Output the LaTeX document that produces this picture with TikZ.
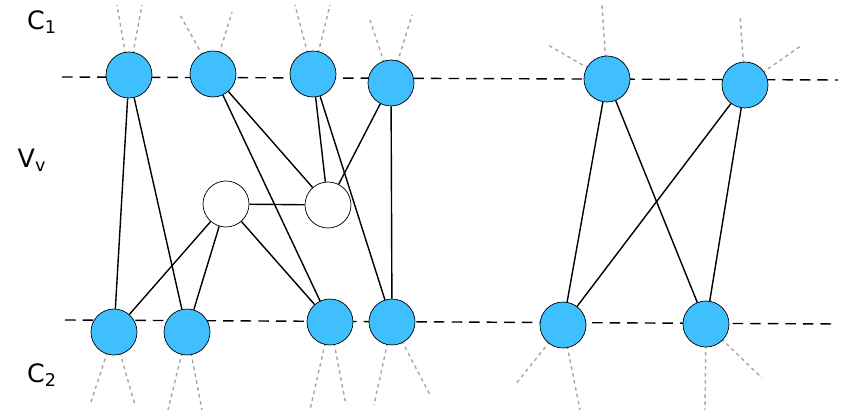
\documentclass[tikz,border=0pt]{standalone}
\usepackage{fontspec}
\setmainfont{DejaVu Sans}
\definecolor{nodeblue}{HTML}{40BFFF}
\begin{document}
\begin{tikzpicture}[x=0.02cm,y=-0.02cm,
    vert/.style={circle,draw,fill=nodeblue,minimum size=0.92cm,inner sep=0pt},
    free/.style={circle,draw,fill=white,minimum size=0.92cm,inner sep=0pt},
    stub/.style={gray!70,dash pattern=on 2pt off 2pt,thick},
    cut/.style={thick,dash pattern=on 6pt off 4pt},
    edge/.style={thick}]
    \useasboundingbox (0,0) rectangle (843,415);
    % cuts
    \draw[cut] (62,77) -- (838,80);
    \draw[cut] (65,320) -- (838,324);
    \node at (42,22) {\Large C\textsubscript{1}};
    \node at (32,160) {\Large V\textsubscript{v}};
    \node at (42,375) {\Large C\textsubscript{2}};
    % stubs
    \foreach \x/\y/\a/\b/\c/\d in {129/75/117/5/142/5, 213/74/180/15/232/12, 313/74/295/5/330/5,
        391/83/370/20/412/15, 607/79/548/45/602/5, 745/85/740/15/802/45,
        114/332/90/405/135/405, 187/332/168/410/202/410, 330/322/310/410/346/405,
        392/322/374/405/430/395, 563/325/515/385/580/410, 706/324/705/410/762/378}
    {\draw[stub] (\x,\y) -- (\a,\b); \draw[stub] (\x,\y) -- (\c,\d);}
    % vertices
    \node[vert] (t1) at (129,75) {};
    \node[vert] (t2) at (213,74) {};
    \node[vert] (t3) at (313,74) {};
    \node[vert] (t4) at (391,83) {};
    \node[vert] (t5) at (607,79) {};
    \node[vert] (t6) at (745,85) {};
    \node[vert] (b1) at (114,332) {};
    \node[vert] (b2) at (187,332) {};
    \node[vert] (b3) at (330,322) {};
    \node[vert] (b4) at (392,322) {};
    \node[vert] (b5) at (563,325) {};
    \node[vert] (b6) at (706,324) {};
    \node[free] (w1) at (226,204) {};
    \node[free] (w2) at (328,205) {};
    % edges
    \foreach \u/\v in {t1/b1, t1/b2, t2/b3, t2/w2, t3/w2, t3/b4, t4/w2, t4/b4,
        w1/w2, w1/b1, w1/b2, w1/b3, t5/b5, t5/b6, t6/b5, t6/b6}
    {\draw[edge] (\u) -- (\v);}
\end{tikzpicture}
\end{document}
